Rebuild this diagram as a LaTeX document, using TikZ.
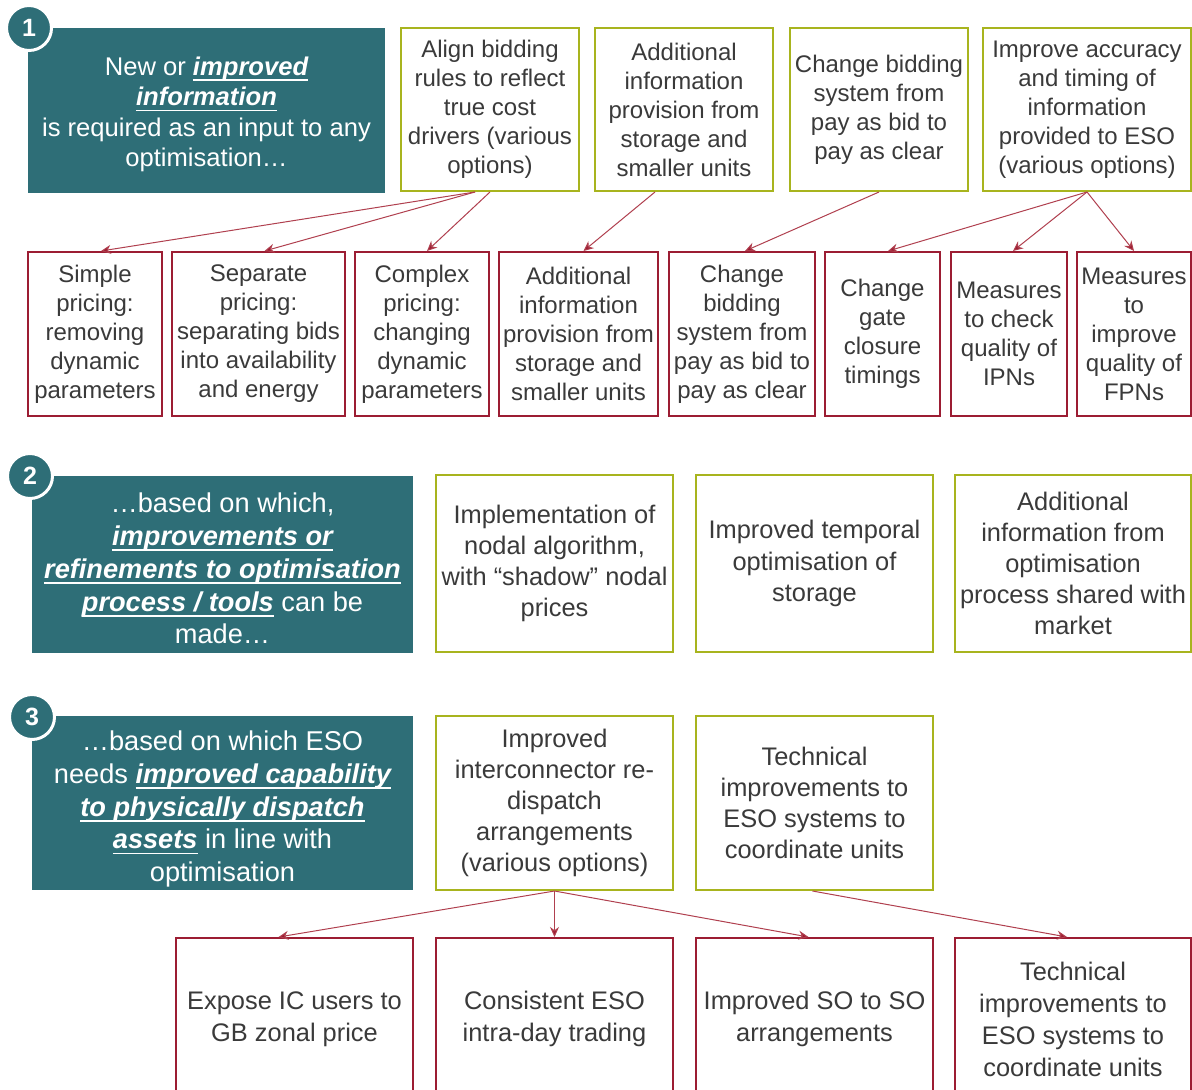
\documentclass[tikz,border=0pt]{standalone}
\usepackage{fontspec}
\setmainfont{Liberation Sans}
\usetikzlibrary{fit,arrows.meta}
\definecolor{tealc}{HTML}{2E6E77}
\definecolor{olivec}{HTML}{A8B41E}
\definecolor{redc}{HTML}{9C1D33}
\definecolor{arrc}{HTML}{B0404F}
\definecolor{txtc}{HTML}{3A3A3A}
\newsavebox\uboxA
\newcommand\bui[1]{\sbox\uboxA{\bfseries\itshape #1}\leavevmode\rlap{\usebox\uboxA}\raisebox{-2.8pt}{\rule{\wd\uboxA}{0.9pt}}}
% #1 box style, #2 name, #3-#6 corners (px), #7 text style, #8 text
\newcommand\bx[8]{%
  \node[#1, fit={(#3,#4)(#5,#6)}] (#2) {};
  \node[#7] (#2t) at (#2.center) {#8};}
\begin{document}
\begin{tikzpicture}[x=0.5pt,y=-0.5pt,
  frame/.style={inner sep=0pt, line width=1pt},
  olivebox/.style={frame, draw=olivec},
  redbox/.style={frame, draw=redc},
  tealbox/.style={inner sep=0pt, fill=tealc},
  txtA/.style={inner sep=0pt, align=center, text=txtc, font=\fontsize{12}{14.5}\selectfont},
  txtB/.style={inner sep=0pt, align=center, text=txtc, font=\fontsize{12.7}{15.6}\selectfont},
  txtC/.style={inner sep=0pt, align=center, text=txtc, font=\fontsize{12.7}{16}\selectfont},
  txtT/.style={inner sep=0pt, align=center, text=white, yshift=-2pt, font=\fontsize{13.6}{16.4}\selectfont},
  numc/.style={circle, fill=tealc, draw=white, line width=1.5pt, text=white, minimum size=22.5pt, inner sep=0pt, font=\fontsize{12.5}{14}\selectfont\bfseries},
  arr/.style={draw=arrc, line width=0.5pt, -{Stealth[length=5pt,width=4.5pt,fill=redc]}}
]
\useasboundingbox[fill=white] (0,0) rectangle (1192,1090);

% ---------- Row 1 ----------
\bx{tealbox}{t1}{28}{28}{385}{193}{txtT, font=\fontsize{12.8}{15.25}\selectfont}
  {New or \bui{improved}\\ \bui{information}\\ is required as an input to any\\ optimisation…}
\node[numc] (n1) at (29,28) {1};

\bx{olivebox}{oa}{401}{28}{579}{191}{txtA}{Align bidding\\ rules to reflect\\ true cost\\ drivers (various\\ options)}
\bx{olivebox}{ob}{595}{28}{773}{191}{txtA}{Additional\\ information\\ provision from\\ storage and\\ smaller units}
\bx{olivebox}{oc}{790}{28}{968}{191}{txtA}{Change bidding\\ system from\\ pay as bid to\\ pay as clear}
\bx{olivebox}{od}{983}{28}{1191}{191}{txtA}{Improve accuracy\\ and timing of\\ information\\ provided to ESO\\ (various options)}

\bx{redbox}{s1}{28}{252}{162}{416}{txtA}{Simple\\ pricing:\\ removing\\ dynamic\\ parameters}
\bx{redbox}{s2}{172}{252}{345}{416}{txtA}{Separate\\ pricing:\\ separating bids\\ into availability\\ and energy}
\bx{redbox}{s3}{355}{252}{489}{416}{txtA}{Complex\\ pricing:\\ changing\\ dynamic\\ parameters}
\bx{redbox}{s4}{499}{252}{658}{416}{txtA}{Additional\\ information\\ provision from\\ storage and\\ smaller units}
\bx{redbox}{s5}{669}{252}{815}{416}{txtA}{Change\\ bidding\\ system from\\ pay as bid to\\ pay as clear}
\bx{redbox}{s6}{825}{252}{940}{416}{txtA}{Change\\ gate\\ closure\\ timings}
\bx{redbox}{s7}{951}{252}{1067}{416}{txtA}{Measures\\ to check\\ quality of\\ IPNs}
\bx{redbox}{s8}{1077}{252}{1191}{416}{txtA}{Measures\\ to\\ improve\\ quality of\\ FPNs}

\draw[arr] ([xshift=-7.5pt]oa.south) -- ([xshift=3pt]s1.north);
\draw[arr] ([xshift=-7.5pt]oa.south) -- ([xshift=3pt]s2.north);
\draw[arr] (oa.south) -- ([xshift=2.5pt]s3.north);
\draw[arr] ([xshift=-14.5pt]ob.south) -- ([xshift=2.5pt]s4.north);
\draw[arr] (oc.south) -- ([xshift=1.5pt]s5.north);
\draw[arr] (od.south) -- ([xshift=2.75pt]s6.north);
\draw[arr] (od.south) -- ([xshift=2pt]s7.north);
\draw[arr] (od.south) -- (s8.north);

% ---------- Row 2 ----------
\bx{tealbox}{t2}{32}{476}{413}{653}{txtT}
  {…based on which,\\ \bui{improvements or}\\ \bui{refinements to optimisation}\\ \bui{process / tools} can be\\ made…}
\node[numc] (n2) at (30,476) {2};

\bx{olivebox}{p1}{436}{475}{673}{652}{txtB}{Implementation of\\ nodal algorithm,\\ with “shadow” nodal\\ prices}
\bx{olivebox}{p2}{696}{475}{933}{652}{txtB}{Improved temporal\\ optimisation of\\ storage}
\bx{olivebox}{p3}{955}{475}{1191}{652}{txtB}{Additional\\ information from\\ optimisation\\ process shared with\\ market}

% ---------- Row 3 ----------
\bx{tealbox}{t3}{32}{716}{413}{890}{txtT, yshift=-1pt}
  {…based on which ESO\\ needs \bui{improved capability}\\ \bui{to physically dispatch}\\ \bui{assets} in line with\\ optimisation}
\node[numc] (n3) at (32,717) {3};

\bx{olivebox}{q1}{436}{716}{673}{890}{txtB}{Improved\\ interconnector re-\\ dispatch\\ arrangements\\ (various options)}
\bx{olivebox}{q2}{696}{716}{933}{890}{txtB}{Technical\\ improvements to\\ ESO systems to\\ coordinate units}

\bx{redbox}{r1}{176}{938}{413}{1100}{txtC}{Expose IC users to\\ GB zonal price}
\bx{redbox}{r2}{436}{938}{673}{1100}{txtC}{Consistent ESO\\ intra-day trading}
\bx{redbox}{r3}{696}{938}{933}{1100}{txtC}{Improved SO to SO\\ arrangements}
\bx{redbox}{r4}{955}{938}{1191}{1100}{txtC}{Technical\\ improvements to\\ ESO systems to\\ coordinate units}

\draw[arr] (q1.south) -- ([xshift=-8pt]r1.north);
\draw[arr] (q1.south) -- (r2.north);
\draw[arr] (q1.south) -- ([xshift=-3pt]r3.north);
\draw[arr] ([xshift=-1pt]q2.south) -- ([xshift=-3pt]r4.north);
\end{tikzpicture}
\end{document}
